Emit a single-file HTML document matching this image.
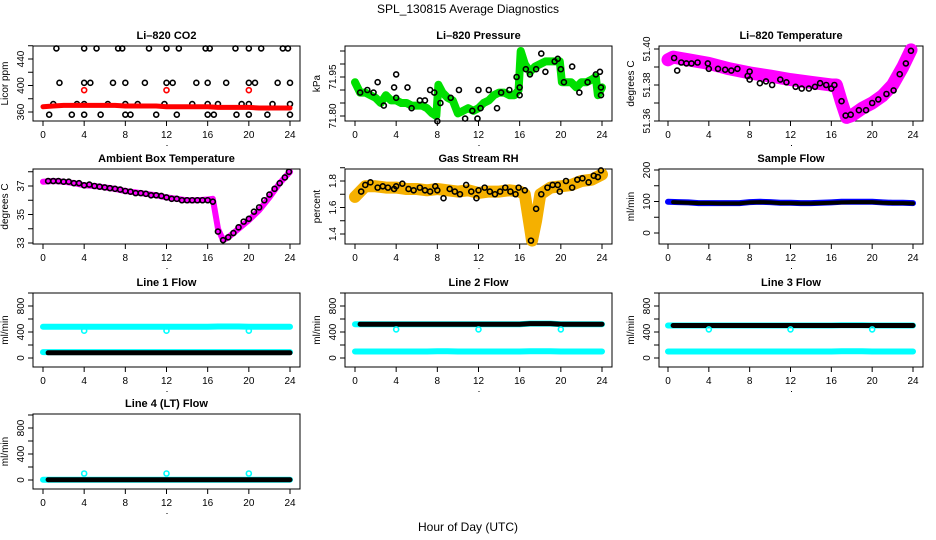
<!DOCTYPE html>
<html><head><meta charset="utf-8"><style>
html,body{margin:0;padding:0;background:#fff}
svg{display:block;font-family:"Liberation Sans",Arial,sans-serif}
</style></head><body>
<svg id="c" width="936" height="540" viewBox="0 0 936 540">
<text x="468" y="13" text-anchor="middle" font-size="12">SPL_130815  Average Diagnostics</text>
<text x="468" y="531" text-anchor="middle" font-size="12">Hour of Day (UTC)</text>
</svg>
<script>
// ---- data ----
const xTicks = [0,4,8,12,16,20,24];
// CO2
const co2RedT = [0,1,2,3,4,5,6,7,8,9,10,11,12,13,14,15,16,17,18,19,20,21,22,23,24];
const co2RedV = [368,369,370,370,370,370,370,370,369,369,369,369,368,368,368,368,368,367,367,367,367,366,366,366,366];
const co2OutT = [4,12,20];
const co2OutV = [393,393,393];
const co2BlkT = [1.3,4,5.2,7.3,7.7,10.3,12,13.2,15.8,16.2,18.7,20,21.2,23.3,23.8, 1.6,4,4.6,6.8,8,9.9,12,12.6,14.9,16,17.8,20,20.6,22.8,24, 1,3.3,4,6.3,8,9.2,11.8,14.5,16,17,19.3,20,22.3,24, 0.6,2.8,4,5.6,8,8.5,11,13,16,16.6,18.8,20,21.8,24];
const co2BlkV = [456,456,456,456,456,456,456,456,456,456,456,456,456,456,456, 404,404,404,404,404,404,404,404,404,404,404,404,404,404,404, 372,372,372,372,372,372,372,372,372,372,372,372,372,372, 356,356,356,356,356,356,356,356,356,356,356,356,356,356];
// Pressure
const presT = [0,0.5,1,1.5,2,2.5,3,3.5,4,4.5,5,5.5,6,6.5,7,7.5,7.9,8.1,8.5,9,9.5,10,10.5,11,11.5,12,12.5,13,13.5,14,14.5,15,15.5,15.9,16.1,16.5,17,17.5,18,18.5,19,19.5,19.9,20.1,20.5,21,21.5,22,22.5,23,23.4,23.6,24];
const presV = [71.93,71.89,71.89,71.88,71.87,71.85,71.88,71.86,71.86,71.85,71.85,71.84,71.84,71.84,71.83,71.81,71.80,71.92,71.89,71.87,71.86,71.81,71.82,71.83,71.82,71.83,71.85,71.86,71.88,71.89,71.89,71.88,71.88,71.90,72.05,72.00,71.97,71.99,72.00,72.01,72.01,72.01,72.01,71.93,71.93,71.93,71.91,71.93,71.93,71.94,71.95,71.88,71.91];
const presBlkT = [0.5,1.2,1.8,2.2,2.8,3.8,4,4,5.1,5.5,6.3,6.8,7.3,7.7,8,8.3,9.3,10.1,10.7,11.4,11.9,12,12.2,13,13.8,14.2,15,15.7,16,16,16.6,17,17.6,18.1,18.5,19.4,19.7,20,20.3,21.1,21.8,22.6,23.4,23.8,23.9,23.9];
const presBlkV = [71.89,71.90,71.89,71.93,71.84,71.91,71.96,71.87,71.91,71.83,71.86,71.86,71.90,71.89,71.78,71.85,71.87,71.90,71.79,71.82,71.79,71.90,71.83,71.90,71.83,71.89,71.90,71.95,71.88,71.91,71.98,71.96,71.98,72.04,71.97,72.01,72.02,71.98,71.93,71.99,71.89,71.93,71.96,71.97,71.91,71.88];
// Li-820 temperature
const ltT = [0,0.5,2,4,6,8,10,12,14,16,16.5,17,17.5,18,19,20,21,22,23,23.8];
const ltV = [51.394,51.3955,51.394,51.392,51.389,51.3867,51.385,51.383,51.3815,51.380,51.380,51.3705,51.362,51.363,51.367,51.370,51.374,51.380,51.390,51.3995];
const ltBlkT = [0.6,0.9,1.3,1.8,2.3,2.9,3.9,4,4.9,5.6,6.2,6.8,7.8,8,8,9,9.6,10.2,11,11.6,12.5,13.1,13.8,14.4,14.9,15.5,16,16.3,17,17.4,17.9,18.7,19.4,20,20.6,21.4,22.1,22.7,23.3,23.8];
const ltBlkV = [51.395,51.388,51.3925,51.392,51.392,51.3925,51.392,51.389,51.389,51.3885,51.388,51.389,51.385,51.3875,51.383,51.381,51.382,51.380,51.383,51.3815,51.379,51.378,51.378,51.379,51.381,51.380,51.378,51.380,51.371,51.363,51.3635,51.366,51.366,51.370,51.372,51.375,51.377,51.386,51.392,51.399];
// Ambient box temperature
const ambT = [0,1,2,3,4,5,6,7,8,9,10,11,12,13,14,15,16,16.5,17,17.5,18,19,20,21,22,23,24];
const ambV = [37.3,37.35,37.3,37.2,37.05,37.0,36.9,36.8,36.65,36.55,36.45,36.35,36.2,36.1,36.0,36.0,36.05,36.1,34.0,33.2,33.4,34.0,34.6,35.3,36.2,37.2,38.0];
const ambBlkT = [0.5,1,1.5,2,2.5,3,3.5,4,4.5,5,5.5,6,6.5,7,7.5,8,8.5,9,9.5,10,10.5,11,11.5,12,12.5,13,13.5,14,14.5,15,15.5,16,16.5,17,17.5,18,18.5,19,19.5,20,20.5,21,21.5,22,22.5,23,23.5,23.9];
const ambBlkV = [37.35,37.35,37.35,37.3,37.3,37.2,37.2,37.05,37.1,37.0,36.95,36.9,36.85,36.8,36.75,36.65,36.6,36.5,36.5,36.45,36.35,36.35,36.3,36.2,36.1,36.1,36.0,36.0,36.0,36.0,36.0,36.0,35.9,33.8,33.2,33.4,33.7,34.1,34.5,34.7,35.2,35.5,36.0,36.4,36.8,37.2,37.6,38.0];
// Gas stream RH
const rhT = [0,0.5,1,2,3,4,5,6,7,8,9,10,11,12,13,14,15,16,16.5,17,17.2,17.6,18,19,20,21,22,23,24];
const rhV = [1.68,1.72,1.76,1.76,1.75,1.75,1.74,1.74,1.73,1.74,1.73,1.72,1.73,1.71,1.72,1.72,1.73,1.72,1.70,1.45,1.35,1.50,1.70,1.75,1.76,1.77,1.80,1.81,1.85];
const rhBlkT = [0.6,1,1.5,2.2,2.7,3.2,3.8,4,4.6,5.2,5.7,6.3,6.8,7.3,7.8,8,8.6,9.2,9.7,10.2,10.8,11.3,11.8,12,12.6,13.1,13.6,14.1,14.6,15.1,15.6,15.9,16.5,17.1,17.6,18.1,18.7,19.2,19.7,19.9,20.5,21.1,21.6,22.1,22.7,23.2,23.6,23.9];
const rhBlkV = [1.72,1.77,1.79,1.75,1.76,1.75,1.74,1.76,1.78,1.74,1.73,1.75,1.73,1.72,1.76,1.73,1.67,1.74,1.72,1.70,1.77,1.72,1.67,1.73,1.75,1.72,1.70,1.72,1.75,1.72,1.70,1.75,1.73,1.35,1.59,1.70,1.75,1.77,1.77,1.72,1.80,1.75,1.81,1.82,1.79,1.84,1.83,1.88];
// Flows
const hrs = [0,1,2,3,4,5,6,7,8,9,10,11,12,13,14,15,16,17,18,19,20,21,22,23,24];
const blkHrs = [0.5,1,2,3,4,5,6,7,8,9,10,11,12,13,14,15,16,17,18,19,20,21,22,23,24];
const sampleBlue = [99,98,97,95,95,95,95,95,98,99,98,96,96,95,95,96,97,99,99,99,99,97,96,96,95];
const sampleBlk  = [98,97,96,95,95,94,94,94,97,98,97,95,95,94,94,95,96,97,98,98,98,96,95,95,94];
const l1High = [480,480,480,480,480,480,480,480,480,480,480,480,480,480,480,480,480,485,485,485,480,480,480,480,480];
const l1Low  = [90,90,90,90,90,90,90,90,90,90,90,90,90,90,90,90,90,90,90,90,90,90,90,90,90];
const l1Blk  = [80,80,80,80,80,80,80,80,80,80,80,80,80,80,80,80,80,80,80,80,80,80,80,80,80];
const l2High = [520,520,520,520,520,520,520,520,520,520,520,520,520,520,520,520,520,530,530,530,520,520,520,520,520];
const l2Low  = [100,100,100,100,100,100,100,100,105,105,100,100,100,100,100,100,100,105,105,105,100,100,100,100,100];
const l2Blk  = [520,520,520,520,520,520,520,520,520,520,520,520,520,520,520,520,520,530,530,530,520,520,520,520,520];
const l3High = [500,500,500,500,500,500,500,500,500,500,500,500,500,500,500,500,500,505,505,505,500,500,500,500,500];
const l3Low  = [100,100,100,100,100,100,100,100,100,100,100,100,100,100,100,100,100,105,105,105,100,100,100,100,100];
const l3Blk  = [500,500,500,500,500,500,500,500,500,500,500,500,500,500,500,500,500,500,500,500,500,500,500,500,500];
const l4Cyan = [5,5,5,5,5,5,5,5,5,5,5,5,5,5,5,5,5,5,5,5,5,5,5,5,5];
const l4Blk  = [5,5,5,5,5,5,5,5,5,5,5,5,5,5,5,5,5,5,5,5,5,5,5,5,5];
const dipT = [4,12,20];
const l1Dip = [420,420,420];
const l2Dip = [440,440,440];
const l3Dip = [440,440,440];
const l4Spike = [100,100,100];

// ---- layout ----
const NS = "http://www.w3.org/2000/svg";
const svg = document.getElementById('c');
const cols = [{x0:43,x24:290,L:33,R:300},{x0:355,x24:602,L:345,R:612},{x0:668,x24:913,L:659,R:923}];
const rows = [{T:46,B:121},{T:169,B:244},{T:293,B:367},{T:414,B:489}];
function mk(tag, attrs, parent){const e=document.createElementNS(NS,tag);for(const k in attrs)e.setAttribute(k,attrs[k]);(parent||svg).appendChild(e);return e;}

function panel(p){
  const c=cols[p.col], r=rows[p.row];
  const g=mk('g',{});
  
  
  const xs=t=>c.x0+(t/24)*(c.x24-c.x0);
  const ys=v=>p.p1+(v-p.v1)/(p.v2-p.v1)*(p.p2-p.p1);
  const box=mk('rect',{x:c.L,y:r.T,width:c.R-c.L,height:r.B-r.T,fill:'none',stroke:'#000','stroke-width':1},g);
  
  
  const tt=mk('text',{x:(c.L+c.R)/2,y:r.T-7,'text-anchor':'middle','font-size':11,'font-weight':'bold'},g);
  tt.textContent=p.title;
  
  
  xTicks.forEach(t=>{
    mk('line',{x1:xs(t),x2:xs(t),y1:r.B,y2:r.B+5,stroke:'#000'},g);
    const l=mk('text',{x:xs(t),y:r.B+17,'text-anchor':'middle','font-size':10},g);
    l.textContent=t;
    
    
  });
  mk('rect',{x:(c.L+c.R)/2,y:r.B+24,width:1,height:1,fill:'#000'},g);
  p.ticks.forEach(v=>{
    mk('line',{x1:c.L-5,x2:c.L,y1:ys(v),y2:ys(v),stroke:'#000'},g);
  });
  p.labels.forEach(v=>{
    const l=mk('text',{x:c.L-9,y:ys(v),'text-anchor':'middle','font-size':10,transform:`rotate(-90 ${c.L-9} ${ys(v)})`},g);
    l.textContent=p.fmt?p.fmt(v):v;
    
    
  });
  const yl=mk('text',{x:c.L-25,y:(r.T+r.B)/2,'text-anchor':'middle','font-size':10,transform:`rotate(-90 ${c.L-25} ${(r.T+r.B)/2})`},g);
  yl.textContent=p.ylab;
  
  
  p.series.forEach(s=>{
    if(s.type==='band'){
      const pts=s.t.map((t,i)=>xs(t).toFixed(1)+','+ys(s.v[i]).toFixed(1)).join(' ');
      const pl=mk('polyline',{points:pts,fill:'none',stroke:s.color,'stroke-width':s.w,'stroke-linejoin':'round','stroke-linecap':'round'},g);
      
      
    } else {
      s.t.forEach((t,i)=>{
        const ci=mk('circle',{cx:xs(t),cy:ys(s.v[i]),r:s.r||2.5,fill:'none',stroke:s.color,'stroke-width':1.6},g);
        
        
      });
    }
  });
}
const flowTicks=[0,200,400,600,800,1000], flowLabels=[0,400,800];
panel({name:'co2-panel',title:'Li\u2013820 CO2',col:0,row:0,v1:360,p1:112,v2:440,p2:59,ticks:[360,380,400,420,440,460],labels:[360,400,440],ylab:'Licor ppm',
 series:[{type:'pts',t:co2BlkT,v:co2BlkV,color:'#000',name:'co2-black-point'},{type:'band',t:co2RedT,v:co2RedV,color:'#f00',w:5,name:'co2-red-series'},{type:'pts',t:co2OutT,v:co2OutV,color:'#f00',name:'co2-red-point'}]});
panel({name:'pressure-panel',title:'Li\u2013820 Pressure',col:1,row:0,v1:71.80,p1:116,v2:71.95,p2:77,ticks:[71.80,71.85,71.90,71.95,72.00,72.05],labels:[71.80,71.95],fmt:v=>v.toFixed(2),ylab:'kPa',
 series:[{type:'band',t:presT,v:presV,color:'#00e000',w:8,name:'pressure-green-series'},{type:'pts',t:presBlkT,v:presBlkV,color:'#000',name:'pressure-black-point'}]});
panel({name:'li820-temp-panel',title:'Li\u2013820 Temperature',col:2,row:0,v1:51.36,p1:121,v2:51.40,p2:49,ticks:[51.36,51.37,51.38,51.39,51.40],labels:[51.36,51.38,51.40],fmt:v=>v.toFixed(2),ylab:'degrees C',
 series:[{type:'band',t:ltT,v:ltV,color:'#ff00ff',w:13,name:'li820-temp-magenta-series'},{type:'pts',t:ltBlkT,v:ltBlkV,color:'#000',name:'li820-temp-black-point'}]});
panel({name:'ambient-temp-panel',title:'Ambient Box Temperature',col:0,row:1,v1:33,p1:243,v2:37,p2:186,ticks:[33,34,35,36,37,38],labels:[33,35,37],ylab:'degrees C',
 series:[{type:'band',t:ambT,v:ambV,color:'#ff00ff',w:6,name:'ambient-magenta-series'},{type:'pts',t:ambBlkT,v:ambBlkV,color:'#000',name:'ambient-black-point'}]});
panel({name:'rh-panel',title:'Gas Stream RH',col:1,row:1,v1:1.4,p1:234,v2:1.8,p2:181,ticks:[1.4,1.5,1.6,1.7,1.8,1.9],labels:[1.4,1.6,1.8],fmt:v=>v.toFixed(1),ylab:'percent',
 series:[{type:'band',t:rhT,v:rhV,color:'#f5b000',w:12,name:'rh-orange-series'},{type:'pts',t:rhBlkT,v:rhBlkV,color:'#000',name:'rh-black-point'}]});
panel({name:'sample-flow-panel',title:'Sample Flow',col:2,row:1,v1:0,p1:233,v2:200,p2:170,ticks:[0,50,100,150,200],labels:[0,100,200],ylab:'ml/min',
 series:[{type:'band',t:hrs,v:sampleBlue,color:'#0000ff',w:6,name:'sample-blue-series'},{type:'band',t:blkHrs,v:sampleBlk,color:'#000',w:4,name:'sample-black-series'}]});
panel({name:'line1-flow-panel',title:'Line 1 Flow',col:0,row:2,v1:0,p1:358,v2:800,p2:306,ticks:flowTicks,labels:flowLabels,ylab:'ml/min',
 series:[{type:'band',t:hrs,v:l1High,color:'#00ffff',w:6,name:'line1-cyan-high'},{type:'band',t:hrs,v:l1Low,color:'#00ffff',w:6,name:'line1-cyan-low'},{type:'band',t:blkHrs,v:l1Blk,color:'#000',w:5,name:'line1-black-series'},{type:'pts',t:dipT,v:l1Dip,color:'#00ffff',name:'line1-cyan-dip'}]});
panel({name:'line2-flow-panel',title:'Line 2 Flow',col:1,row:2,v1:0,p1:358,v2:800,p2:306,ticks:flowTicks,labels:flowLabels,ylab:'ml/min',
 series:[{type:'band',t:hrs,v:l2High,color:'#00ffff',w:6,name:'line2-cyan-high'},{type:'band',t:hrs,v:l2Low,color:'#00ffff',w:6,name:'line2-cyan-low'},{type:'band',t:blkHrs,v:l2Blk,color:'#000',w:5,name:'line2-black-series'},{type:'pts',t:dipT,v:l2Dip,color:'#00ffff',name:'line2-cyan-dip'}]});
panel({name:'line3-flow-panel',title:'Line 3 Flow',col:2,row:2,v1:0,p1:358,v2:800,p2:306,ticks:flowTicks,labels:flowLabels,ylab:'ml/min',
 series:[{type:'band',t:hrs,v:l3High,color:'#00ffff',w:6,name:'line3-cyan-high'},{type:'band',t:hrs,v:l3Low,color:'#00ffff',w:6,name:'line3-cyan-low'},{type:'band',t:blkHrs,v:l3Blk,color:'#000',w:5,name:'line3-black-series'},{type:'pts',t:dipT,v:l3Dip,color:'#00ffff',name:'line3-cyan-dip'}]});
panel({name:'line4-flow-panel',title:'Line 4 (LT) Flow',col:0,row:3,v1:0,p1:480,v2:800,p2:428,ticks:flowTicks,labels:flowLabels,ylab:'ml/min',
 series:[{type:'band',t:hrs,v:l4Cyan,color:'#00ffff',w:6,name:'line4-cyan-series'},{type:'band',t:blkHrs,v:l4Blk,color:'#000',w:5,name:'line4-black-series'},{type:'pts',t:dipT,v:l4Spike,color:'#00ffff',name:'line4-cyan-spike'}]});
</script>
</body></html>
